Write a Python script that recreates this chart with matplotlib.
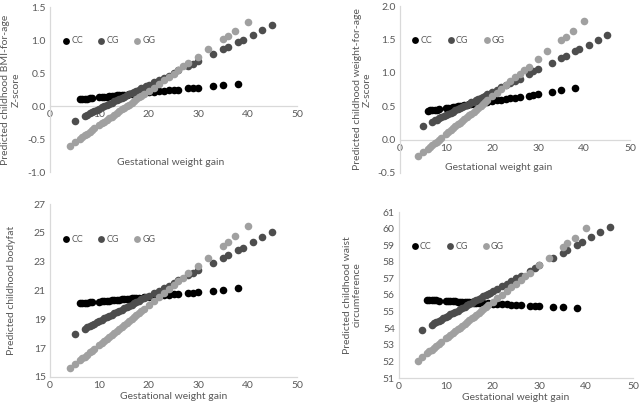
import matplotlib
matplotlib.use("Agg")
import matplotlib.pyplot as plt

plt.rcParams["font.family"] = ["Lato", "DejaVu Sans"]

# 유전자형별 임신 중 체중 증가(x) 값
x_cc = [6, 6.5, 7, 7.5, 8, 8.5, 10, 10.5, 11, 11.5, 12, 12.5, 13, 13.5, 14, 14.5, 15, 15.5,
        16, 16.5, 17, 17.5, 18, 19, 20, 21, 22, 23, 24, 25, 26, 28, 29, 30, 33, 35, 38]
x_cg = [5, 7, 7.5, 8, 8.5, 9, 9.5, 10, 10.5, 11, 11.5, 12, 12.5, 13, 13.5, 14, 14.5, 15,
        15.5, 16, 16.5, 17, 17.5, 18, 18.5, 19, 19.5, 20, 21, 22, 23, 24, 25, 26, 28, 29,
        30, 33, 35, 36, 38, 39, 41, 43, 45]
x_gg = [4, 5, 6, 6.5, 7, 7.5, 8, 8.5, 9, 10, 10.5, 11, 11.5, 12, 12.5, 13, 13.5, 14, 14.5,
        15, 15.5, 16, 16.5, 17, 17.5, 18, 18.5, 19, 20, 21, 22, 23, 24, 25, 26, 27, 28, 30,
        32, 35, 36, 37.5, 40]

# BMI-for-age Z-score
bmi_cc = [0.10, 0.10, 0.11, 0.11, 0.12, 0.12, 0.13, 0.13, 0.14, 0.14, 0.15, 0.15, 0.15, 0.16,
          0.16, 0.16, 0.17, 0.17, 0.18, 0.18, 0.18, 0.19, 0.19, 0.20, 0.21, 0.21, 0.22, 0.23,
          0.24, 0.24, 0.25, 0.27, 0.27, 0.28, 0.30, 0.32, 0.34]
bmi_cg = [-0.22, -0.15, -0.13, -0.11, -0.09, -0.08, -0.06, -0.04, -0.02, 0.00, 0.01, 0.03,
          0.05, 0.07, 0.09, 0.10, 0.12, 0.14, 0.16, 0.18, 0.19, 0.21, 0.23, 0.25, 0.27, 0.28,
          0.30, 0.32, 0.36, 0.39, 0.43, 0.46, 0.50, 0.54, 0.61, 0.64, 0.68, 0.79, 0.86, 0.90,
          0.97, 1.00, 1.08, 1.15, 1.22]
bmi_gg = [-0.60, -0.55, -0.50, -0.47, -0.44, -0.42, -0.39, -0.37, -0.34, -0.29, -0.26, -0.24,
          -0.21, -0.18, -0.16, -0.13, -0.11, -0.08, -0.05, -0.03, 0.00, 0.02, 0.05, 0.08, 0.10,
          0.13, 0.15, 0.18, 0.23, 0.28, 0.34, 0.39, 0.44, 0.49, 0.54, 0.60, 0.65, 0.75, 0.86,
          1.01, 1.06, 1.14, 1.27]

# weight-for-age Z-score
wfa_cc = [0.43, 0.44, 0.44, 0.45, 0.45, 0.46, 0.47, 0.48, 0.48, 0.49, 0.49, 0.50, 0.50, 0.51,
          0.52, 0.52, 0.53, 0.53, 0.54, 0.54, 0.55, 0.55, 0.56, 0.57, 0.58, 0.59, 0.60, 0.61,
          0.62, 0.63, 0.64, 0.66, 0.67, 0.68, 0.72, 0.74, 0.77]
wfa_cg = [0.20, 0.27, 0.29, 0.30, 0.32, 0.34, 0.35, 0.37, 0.39, 0.40, 0.42, 0.44, 0.46, 0.47,
          0.49, 0.51, 0.52, 0.54, 0.56, 0.57, 0.59, 0.61, 0.63, 0.64, 0.66, 0.68, 0.69, 0.71,
          0.74, 0.78, 0.81, 0.85, 0.88, 0.91, 0.98, 1.02, 1.05, 1.15, 1.22, 1.25, 1.32, 1.36,
          1.42, 1.49, 1.56]
wfa_gg = [-0.25, -0.19, -0.14, -0.11, -0.08, -0.05, -0.03, 0.00, 0.03, 0.09, 0.11, 0.14, 0.17,
          0.20, 0.23, 0.25, 0.28, 0.31, 0.34, 0.37, 0.39, 0.42, 0.45, 0.48, 0.51, 0.53, 0.56,
          0.59, 0.65, 0.70, 0.76, 0.81, 0.87, 0.93, 0.98, 1.04, 1.09, 1.21, 1.32, 1.49, 1.54,
          1.63, 1.77]

# bodyfat
fat_cc = [20.10, 20.12, 20.13, 20.15, 20.17, 20.18, 20.23, 20.25, 20.27, 20.28, 20.30, 20.31,
          20.33, 20.35, 20.36, 20.38, 20.40, 20.41, 20.43, 20.45, 20.46, 20.48, 20.50, 20.53,
          20.56, 20.60, 20.63, 20.66, 20.69, 20.73, 20.76, 20.83, 20.86, 20.89, 20.99, 21.06,
          21.16]
fat_cg = [18.00, 18.35, 18.44, 18.53, 18.62, 18.70, 18.79, 18.88, 18.97, 19.06, 19.14, 19.23,
          19.32, 19.41, 19.50, 19.58, 19.67, 19.76, 19.85, 19.94, 20.02, 20.11, 20.20, 20.29,
          20.38, 20.46, 20.55, 20.64, 20.82, 20.99, 21.17, 21.34, 21.52, 21.70, 22.05, 22.22,
          22.40, 22.93, 23.28, 23.46, 23.81, 23.98, 24.34, 24.69, 25.04]
fat_gg = [15.60, 15.87, 16.15, 16.29, 16.42, 16.56, 16.70, 16.83, 16.97, 17.24, 17.38, 17.52,
          17.66, 17.79, 17.93, 18.07, 18.20, 18.34, 18.48, 18.61, 18.75, 18.89, 19.03, 19.16,
          19.30, 19.44, 19.57, 19.71, 19.98, 20.26, 20.53, 20.81, 21.08, 21.35, 21.63, 21.90,
          22.18, 22.72, 23.27, 24.09, 24.37, 24.78, 25.46]

# waist circumference
wst_cc = [55.70, 55.69, 55.68, 55.68, 55.67, 55.66, 55.64, 55.63, 55.62, 55.61, 55.61, 55.60,
          55.59, 55.58, 55.58, 55.57, 55.56, 55.55, 55.54, 55.54, 55.53, 55.52, 55.51, 55.50,
          55.48, 55.47, 55.45, 55.43, 55.42, 55.40, 55.39, 55.36, 55.34, 55.33, 55.28, 55.25,
          55.20]
wst_cg = [53.90, 54.21, 54.29, 54.37, 54.44, 54.52, 54.60, 54.68, 54.75, 54.83, 54.91, 54.99,
          55.06, 55.14, 55.22, 55.30, 55.37, 55.45, 55.53, 55.61, 55.68, 55.76, 55.84, 55.92,
          55.99, 56.07, 56.15, 56.23, 56.38, 56.54, 56.69, 56.85, 57.00, 57.16, 57.47, 57.62,
          57.78, 58.24, 58.55, 58.71, 59.02, 59.17, 59.48, 59.79, 60.10]
wst_gg = [52.05, 52.27, 52.49, 52.60, 52.71, 52.82, 52.93, 53.04, 53.16, 53.38, 53.49, 53.60,
          53.71, 53.82, 53.93, 54.04, 54.15, 54.26, 54.37, 54.48, 54.59, 54.70, 54.81, 54.92,
          55.03, 55.14, 55.25, 55.37, 55.59, 55.81, 56.03, 56.25, 56.47, 56.69, 56.91, 57.13,
          57.35, 57.80, 58.24, 58.90, 59.12, 59.45, 60.01]

labels = ["CC", "CG", "GG"]
colors = ["#000000", "#4d4d4d", "#a0a0a0"]
axis_col = "#d9d9d9"
text_col = "#595959"

fig = plt.figure(figsize=(6.42, 4.12), dpi=100)

panels = [
    # rect, ys, ylim, yticks, fmt, ylabel, labelpad, zero-axis
    ([50 / 642, 1 - 172 / 412, 247 / 642, 165 / 412], (bmi_cc, bmi_cg, bmi_gg),
     (-1.0, 1.5), [-1.0, -0.5, 0.0, 0.5, 1.0, 1.5], "{:.1f}",
     "Predicted childhood BMI-for-age\nZ-score", 5, True),
    ([400 / 642, 1 - 173 / 412, 230 / 642, 167 / 412], (wfa_cc, wfa_cg, wfa_gg),
     (-0.5, 2.0), [-0.5, 0.0, 0.5, 1.0, 1.5, 2.0], "{:.1f}",
     "Predicted childhood weight-for-age\nZ-score", 4, True),
    ([50 / 642, 1 - 377 / 412, 247 / 642, 173 / 412], (fat_cc, fat_cg, fat_gg),
     (15, 27), [15, 17, 19, 21, 23, 25, 27], "{:.0f}",
     "Predicted childhood bodyfat", 13, False),
    ([399 / 642, 1 - 378 / 412, 234 / 642, 166 / 412], (wst_cc, wst_cg, wst_gg),
     (51, 61), list(range(51, 62)), "{:.0f}",
     "Predicted childhood waist\ncircumference", 15, False),
]

xs = (x_cc, x_cg, x_gg)

for rect, ys, ylim, yticks, fmt, ylabel, pad, zero_axis in panels:
    ax = fig.add_axes(rect)
    for x, y, lab, c in zip(xs, ys, labels, colors):
        ax.scatter(x, y, s=30, color=c, label=lab, linewidths=0, zorder=3)

    ax.set_xlim(0, 50)
    ax.set_ylim(*ylim)
    ax.set_xticks([0, 10, 20, 30, 40, 50])
    ax.set_yticks(yticks)
    ax.set_yticklabels([fmt.format(v) for v in yticks])
    ax.tick_params(length=0, labelsize=7.5, labelcolor=text_col, pad=3)

    for side in ("top", "right"):
        ax.spines[side].set_visible(False)
    for side in ("left", "bottom"):
        ax.spines[side].set_color(axis_col)
        ax.spines[side].set_linewidth(0.9)

    ax.set_ylabel(ylabel, fontsize=7.5, color=text_col, labelpad=pad)

    if zero_axis:
        ax.spines["bottom"].set_position(("data", 0))
    else:
        ax.set_xlabel("Gestational weight gain", fontsize=7.5, color=text_col, labelpad=1)

    ax.legend(loc="upper left", bbox_to_anchor=(0.02, 0.86), ncol=3, frameon=False,
              fontsize=6.5, handletextpad=0.1, handlelength=1.0, columnspacing=1.5,
              markerscale=0.9, labelcolor=text_col, borderaxespad=0.3)

axes = fig.axes
axes[0].text(0.49, 0.06, "Gestational weight gain", transform=axes[0].transAxes,
             ha="center", va="center", fontsize=7.5, color=text_col)
axes[1].text(0.43, 0.03, "Gestational weight gain", transform=axes[1].transAxes,
             ha="center", va="center", fontsize=7.5, color=text_col)

fig.savefig("out.png", dpi=100)
